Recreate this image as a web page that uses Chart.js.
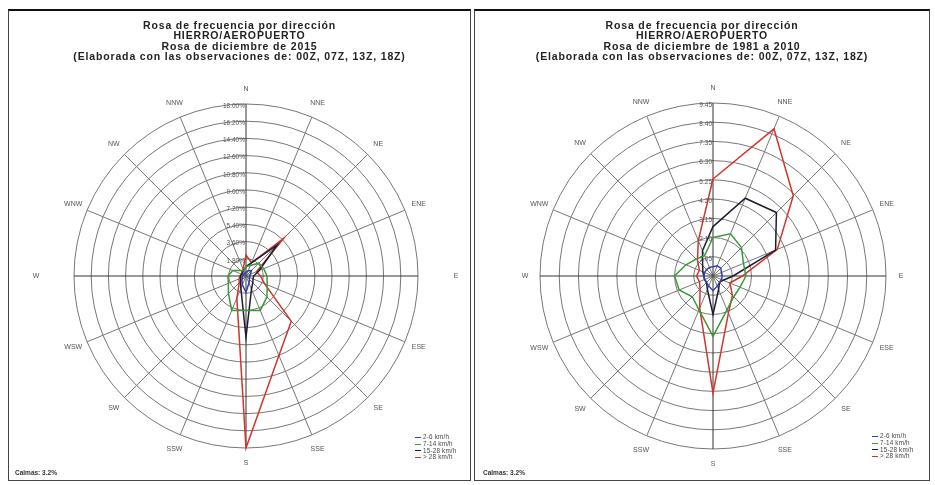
<!DOCTYPE html>
<html>
<head>
<meta charset="utf-8">
<script src="https://cdn.jsdelivr.net/npm/chart.js@4.4.0/dist/chart.umd.min.js"></script>
<style>
  body { margin: 0; background: #fff; font-family: "Liberation Sans", Arial, sans-serif; }
  .panel { position: absolute; top: 9px; height: 469px; border: 1px solid #444; border-top: 2px solid #111; background: #fff; }
  .panel canvas { position: absolute; left: 0; top: 0; }
  .title { position: absolute; left: 0; right: 0; top: 9px; text-align: center; font-weight: bold; font-size: 10.5px; letter-spacing: 0.85px; line-height: 10.3px; color: #222; }
  .legend { position: absolute; font-size: 6.3px; letter-spacing: 0.2px; line-height: 6.8px; color: #444; white-space: nowrap; }
  .legend span { display: inline-block; width: 6px; height: 0; border-top: 1px solid; vertical-align: middle; margin-right: 2px; }
  .calmas { position: absolute; font-size: 6.5px; color: #333; font-weight: bold; }
</style>
</head>
<body>

<div class="panel" id="p1" style="left:8px; width:461px;">
  <canvas id="rose2015" width="461" height="469"></canvas>
  <div class="title">Rosa de frecuencia por dirección<br>HIERRO/AEROPUERTO<br>Rosa de diciembre de 2015<br>(Elaborada con las observaciones de: 00Z, 07Z, 13Z, 18Z)</div>
  <div class="legend" id="leg1" style="left:406px; top:423px;"></div>
  <div class="calmas" style="left:6px; top:458px;">Calmas: 3.2%</div>
</div>

<div class="panel" id="p2" style="left:474px; width:454px;">
  <canvas id="roseClim" width="454" height="469"></canvas>
  <div class="title">Rosa de frecuencia por dirección<br>HIERRO/AEROPUERTO<br>Rosa de diciembre de 1981 a 2010<br>(Elaborada con las observaciones de: 00Z, 07Z, 13Z, 18Z)</div>
  <div class="legend" id="leg2" style="left:397px; top:422px;"></div>
  <div class="calmas" style="left:8px; top:458px;">Calmas: 3.2%</div>
</div>

<script>
// directions and speed classes
const directions = ['N', 'NNE', 'NE', 'ENE', 'E', 'ESE', 'SE', 'SSE', 'S', 'SSW', 'SW', 'WSW', 'W', 'WNW', 'NW', 'NNW'];
const speedClasses = ['2-6 km/h', '7-14 km/h', '15-28 km/h', '> 28 km/h'];
const speedColors = ['#2f3fb0', '#3a9a3a', '#1c1c30', '#d0362a'];

// December 2015 (% of observations)
const dec2015_2_6   = [0.4, 0.6, 0.8, 0.5, 0.4, 0.4, 0.5, 0.8, 1.7, 1.0, 0.6, 0.4, 0.4, 0.3, 0.3, 0.3];
const dec2015_7_14  = [1.0, 1.2, 1.9, 2.0, 2.2, 2.4, 3.1, 3.9, 3.6, 3.9, 2.6, 2.0, 1.9, 1.5, 0.8, 0.6];
const dec2015_15_28 = [1.0, 1.5, 4.6, 1.5, 0.8, 0.8, 1.0, 1.5, 6.4, 1.4, 0.8, 0.6, 0.6, 0.5, 0.5, 0.6];
const dec2015_gt28  = [2.2, 1.5, 5.6, 1.2, 1.5, 2.1, 6.7, 9.0, 18.0, 2.5, 1.0, 0.8, 0.6, 0.5, 0.6, 0.8];
const ticks2015 = [1.8, 3.6, 5.4, 7.2, 9.0, 10.8, 12.6, 14.4, 16.2, 18.0];

// December 1981-2010
const clim_2_6   = [0.5, 0.6, 0.6, 0.5, 0.5, 0.5, 0.5, 0.6, 0.8, 0.6, 0.5, 0.5, 0.5, 0.5, 0.5, 0.5];
const clim_7_14  = [2.1, 2.5, 2.2, 1.8, 1.8, 1.6, 1.6, 2.0, 3.3, 2.0, 1.6, 2.0, 2.1, 1.6, 1.3, 1.2];
const clim_15_28 = [2.7, 4.6, 4.9, 3.7, 1.1, 0.6, 0.5, 0.8, 2.1, 0.8, 0.5, 0.5, 0.5, 0.6, 0.8, 1.5];
const clim_gt28  = [5.3, 8.7, 6.2, 3.8, 1.6, 1.0, 1.5, 2.2, 6.4, 1.9, 1.0, 0.8, 0.9, 0.8, 1.2, 2.1];
const ticksClim = [1.05, 2.10, 3.15, 4.20, 5.25, 6.30, 7.35, 8.40, 9.45];

// draws the direction names and the ring values
const roseText = {
    id: 'roseText',
    afterDraw(chart, args, opts) {
        const scale = chart.scales.r;
        const ctx = chart.ctx;
        ctx.save();
        ctx.fillStyle = '#555';
        ctx.font = '6.5px "Liberation Sans", Arial, sans-serif';
        ctx.textAlign = 'right';
        ctx.textBaseline = 'middle';
        opts.ticks.forEach(v => {
            const d = scale.getDistanceFromCenterForValue(v);
            ctx.fillText(v.toFixed(2) + opts.suffix, scale.xCenter - 1, scale.yCenter - d + 2);
        });
        ctx.font = '7px "Liberation Sans", Arial, sans-serif';
        ctx.textAlign = 'center';
        directions.forEach((name, i) => {
            const gap = (i === 4 || i === 12) ? opts.gapEW : opts.gap;
            const p = scale.getPointPosition(i, scale.drawingArea + gap);
            ctx.fillText(name, p.x, p.y);
        });
        ctx.restore();
    }
};

function makeRose(id, series, ticks, cx, cy, r, suffix, gapEW) {
    const canvas = document.getElementById(id);
    const W = canvas.width, H = canvas.height;
    new Chart(canvas, {
        type: 'radar',
        data: {
            labels: directions,
            datasets: series.map((s, i) => ({
                label: speedClasses[i],
                data: s,
                borderColor: speedColors[i],
                borderWidth: 1.5,
                pointRadius: 0,
                fill: false,
                tension: 0
            }))
        },
        options: {
            responsive: false,
            animation: false,
            layout: { padding: { left: cx - r, top: cy - r, right: W - (cx + r), bottom: H - (cy + r) } },
            plugins: {
                legend: { display: false },
                tooltip: { enabled: false },
                roseText: { ticks: ticks, suffix: suffix, gap: 15, gapEW: gapEW }
            },
            scales: {
                r: {
                    min: 0,
                    max: ticks[ticks.length - 1],
                    afterBuildTicks: s => { s.ticks = [0].concat(ticks).map(v => ({ value: v })); },
                    ticks: { display: false },
                    grid: { circular: true, color: '#777', lineWidth: 1 },
                    angleLines: { color: c => (c.index % 4 === 0 ? '#333' : '#777'), lineWidth: 1 },
                    pointLabels: { display: false }
                }
            }
        },
        plugins: [roseText]
    });
}

function makeLegend(id) {
    const el = document.getElementById(id);
    el.innerHTML = speedClasses.map((t, i) =>
        '<div><span style="border-color:' + speedColors[i] + '"></span>' + t + '</div>').join('');
}

makeRose('rose2015', [dec2015_2_6, dec2015_7_14, dec2015_15_28, dec2015_gt28], ticks2015, 237, 265, 172, '%', 38);
makeRose('roseClim', [clim_2_6, clim_7_14, clim_15_28, clim_gt28], ticksClim, 238, 265, 173, '', 15);
makeLegend('leg1');
makeLegend('leg2');
</script>
</body>
</html>
